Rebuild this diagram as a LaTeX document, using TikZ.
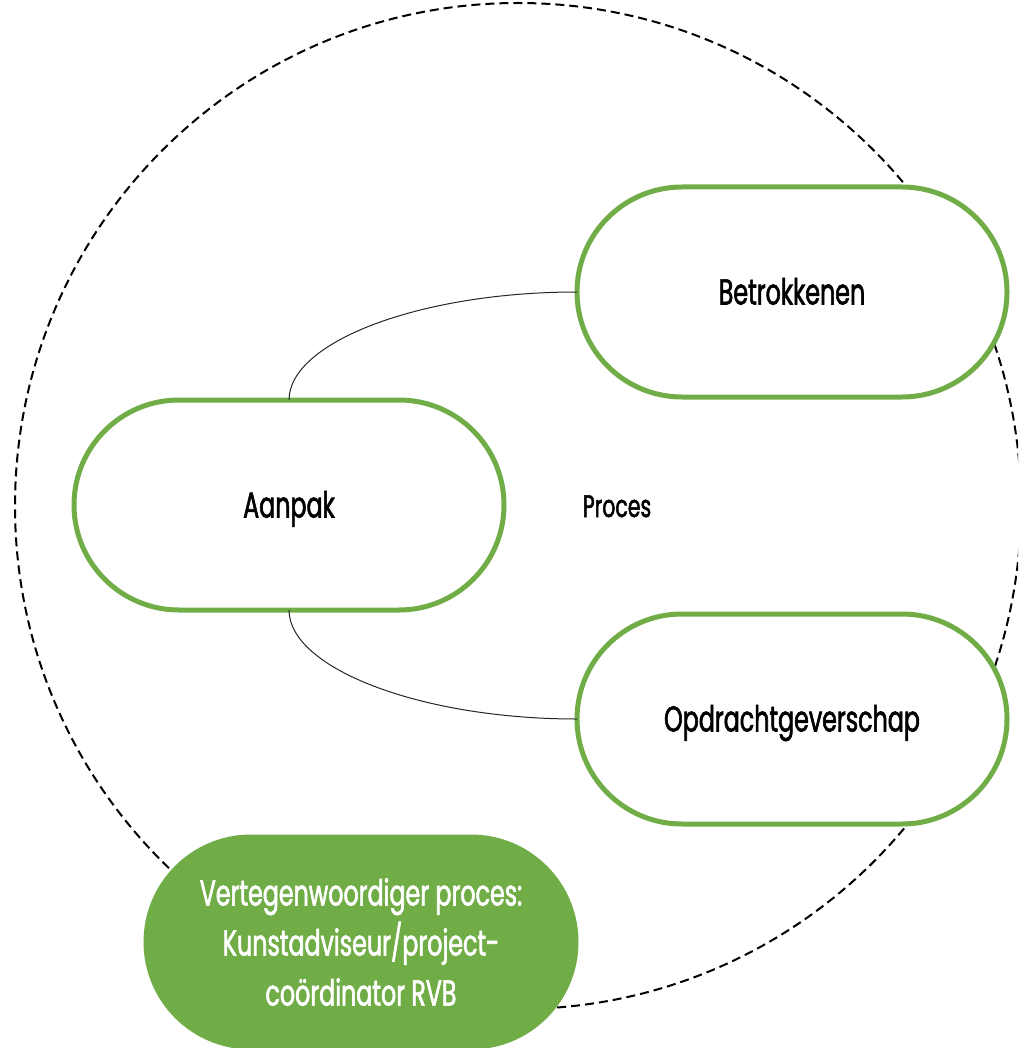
\documentclass[tikz,border=0pt]{standalone}
\usepackage{fontspec}
\setmainfont{Poppins}[FakeStretch=0.66, FakeBold=1.6]
\usetikzlibrary{shapes.misc}
\definecolor{grn}{HTML}{70AD47}
\begin{document}
\begin{tikzpicture}[x=1pt,y=-1pt,
  pill/.style={rounded rectangle, draw=grn, line width=5pt, fill=white,
    minimum width=430pt, minimum height=210pt, outer sep=0pt, inner sep=0pt,
    font=\fontsize{36}{40}\selectfont, text height=25pt, text depth=0pt},
  filledpill/.style={rounded rectangle, draw=grn, line width=5pt, fill=grn,
    minimum width=430pt, minimum height=210pt, outer sep=0pt, inner sep=0pt,
    text=white, align=center, font=\fontsize{36}{50}\selectfont},
  link/.style={draw=black!85, line width=1pt},
  ring/.style={draw=black, line width=2pt, dash pattern=on 9pt off 5pt},
  plain/.style={font=\fontsize{31}{36}\selectfont, inner sep=0pt, text height=22pt, text depth=0pt}]
\useasboundingbox (0,0) rectangle (1018,1048);
\clip (0,0) rectangle (1018,1048);
\fill[white] (0,0) rectangle (1018,1048);
\draw[ring] (518,506) circle[radius=503];
\node[pill] (b) at (792,292) {Betrokkenen};
\node[pill] (a) at (289,505) {Aanpak};
\node[pill] (o) at (792,719) {Opdrachtgeverschap};
\node[filledpill] (v) at (361,942) {Vertegenwoordiger proces:\\Kunstadviseur/project-\\coördinator RVB};
\node[plain] (p) at (617,506) {Proces};
\draw[link] (a.north) .. controls +(0,-58) and +(-157,0) .. (b.west);
\draw[link] (a.south) .. controls +(0,58) and +(-157,0) .. (o.west);
\end{tikzpicture}
\end{document}
